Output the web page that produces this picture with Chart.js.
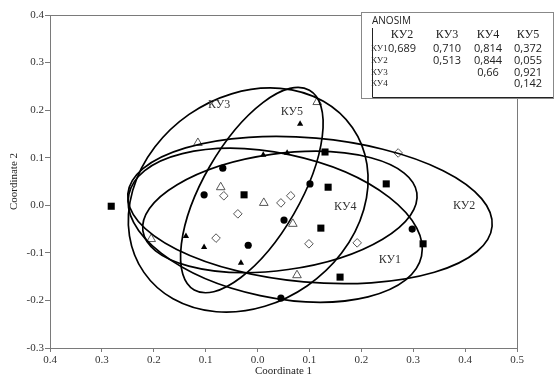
<!DOCTYPE html>
<html>
<head>
<meta charset="utf-8">
<script src="https://cdn.jsdelivr.net/npm/chart.js@4.4.1/dist/chart.umd.min.js"></script>
<style>
  html, body { margin: 0; padding: 0; background: #fff; }
  #wrap { width: 556px; height: 378px; }
</style>
</head>
<body>
<div id="wrap"><canvas id="cNmds" width="556" height="378"></canvas></div>
<script>
// --- ticks ---
const xTicks = [-0.4, -0.3, -0.2, -0.1, 0.0, 0.1, 0.2, 0.3, 0.4, 0.5];
const xTickLabels = ['0.4', '0.3', '0.2', '0.1', '0.0', '0.1', '0.2', '0.3', '0.4', '0.5'];
const yTicks = [0.4, 0.3, 0.2, 0.1, 0.0, -0.1, -0.2, -0.3];
const yTickLabels = ['0.4', '0.3', '0.2', '0.1', '0.0', '-0.1', '-0.2', '-0.3'];

// --- points (Coordinate 1, Coordinate 2) ---
const squares = [[-0.282, -0.002], [-0.026, 0.022], [0.130, 0.112], [0.136, 0.038], [0.248, 0.045], [0.122, -0.048], [0.319, -0.081], [0.159, -0.151]];
const circles = [[-0.067, 0.078], [-0.103, 0.022], [0.101, 0.045], [0.051, -0.031], [-0.018, -0.084], [0.298, -0.050], [0.045, -0.195]];
const triFilled = [[0.082, 0.171], [0.011, 0.106], [0.057, 0.110], [-0.138, -0.065], [-0.103, -0.088], [-0.032, -0.121]];
const triOpen = [[0.115, 0.217], [-0.115, 0.131], [-0.071, 0.038], [0.012, 0.005], [0.068, -0.039], [0.076, -0.147], [-0.205, -0.071]];
const diamonds = [[-0.065, 0.020], [-0.038, -0.018], [0.045, 0.005], [0.064, 0.020], [-0.080, -0.069], [0.099, -0.081], [0.192, -0.079], [0.271, 0.110]];

// --- group ellipses: centre, end of major half-axis, end of minor half-axis ---
const ellipseNames = ['КУ1', 'КУ2', 'КУ3', 'КУ4', 'КУ5'];
const ellipseCenters = [[0.034, -0.042], [0.101, -0.010], [-0.018, 0.011], [0.043, -0.014], [-0.011, 0.032]];
const ellipseMajor = [[0.316, -0.107], [0.452, -0.044], [0.183, 0.163], [0.307, 0.026], [0.100, 0.242]];
const ellipseMinor = [[0.005, -0.190], [0.089, -0.161], [0.096, -0.169], [0.059, -0.135], [0.070, -0.018]];
const ellipseLabelAt = [[0.255, -0.115], [0.398, -0.002], [-0.074, 0.211], [0.169, -0.004], [0.066, 0.196]];

// --- ANOSIM table ---
const anosimCols = ['КУ2', 'КУ3', 'КУ4', 'КУ5'];
const anosimRows = ['КУ1', 'КУ2', 'КУ3', 'КУ4'];
const anosimVals = [
  ['0,689', '0,710', '0,814', '0,372'],
  ['', '0,513', '0,844', '0,055'],
  ['', '', '0,66', '0,921'],
  ['', '', '', '0,142']
];

const toXY = arr => arr.map(p => ({ x: p[0], y: p[1] }));
const SERIF = '"Liberation Serif", "DejaVu Serif", serif';
const AXIS = '#7a7a7a';

// contours + labels, drawn through the scales
const ellipsePlugin = {
  id: 'ellipses',
  afterDatasetsDraw(chart) {
    const { ctx, chartArea: a, scales: { x, y } } = chart;
    ctx.save();
    ctx.beginPath();
    ctx.rect(a.left, a.top, a.right - a.left, a.bottom - a.top);
    ctx.clip();
    ellipseCenters.forEach((c, i) => {
      const cx = x.getPixelForValue(c[0]), cy = y.getPixelForValue(c[1]);
      const ux = x.getPixelForValue(ellipseMajor[i][0]) - cx, uy = y.getPixelForValue(ellipseMajor[i][1]) - cy;
      const vx = x.getPixelForValue(ellipseMinor[i][0]) - cx, vy = y.getPixelForValue(ellipseMinor[i][1]) - cy;
      ctx.save();
      ctx.beginPath();
      ctx.transform(ux, uy, vx, vy, cx, cy);
      ctx.arc(0, 0, 1, 0, Math.PI * 2);
      ctx.restore();
      ctx.lineWidth = 1.7;
      ctx.strokeStyle = '#000';
      ctx.stroke();
    });
    ctx.fillStyle = '#333';
    ctx.font = '12px ' + SERIF;
    ctx.textAlign = 'center';
    ctx.textBaseline = 'middle';
    ellipseLabelAt.forEach((p, i) => {
      ctx.fillText(ellipseNames[i], x.getPixelForValue(p[0]), y.getPixelForValue(p[1]));
    });
    ctx.restore();
  },
  afterDraw(chart) {
    const { ctx, chartArea: a } = chart;
    ctx.save();
    // frame
    ctx.strokeStyle = AXIS;
    ctx.lineWidth = 1;
    ctx.strokeRect(a.left + 0.5, a.top + 0.5, a.right - a.left, a.bottom - a.top);

    // ANOSIM box
    const bx = 361, by = 12, bw = 192, bh = 86;
    ctx.fillStyle = '#fff';
    ctx.fillRect(bx, by, bw, bh);
    ctx.strokeStyle = '#888';
    ctx.strokeRect(bx + 0.5, by + 0.5, bw, bh);
    ctx.strokeStyle = '#222';
    ctx.beginPath();
    ctx.moveTo(372.5, 28); ctx.lineTo(372.5, 97.5); ctx.lineTo(bx + bw, 97.5);
    ctx.stroke();

    ctx.fillStyle = '#222';
    ctx.textBaseline = 'middle';
    ctx.textAlign = 'left';
    ctx.font = '10px "Open Sans", sans-serif';
    ctx.fillText('ANOSIM', 372, 21);

    const colX = [402, 447, 488, 528];
    const rowY = [49, 61, 73, 84];
    ctx.textAlign = 'center';
    ctx.font = '12px ' + SERIF;
    anosimCols.forEach((t, j) => ctx.fillText(t, colX[j], 35));
    ctx.textAlign = 'left';
    ctx.font = '9px ' + SERIF;
    anosimRows.forEach((t, i) => ctx.fillText(t, 371, rowY[i]));
    ctx.textAlign = 'center';
    ctx.font = '11px "Open Sans", sans-serif';
    anosimVals.forEach((row, i) => row.forEach((v, j) => {
      if (v) ctx.fillText(v, colX[j], rowY[i]);
    }));
    ctx.restore();
  }
};

const openPt = { backgroundColor: '#fff', borderColor: '#555', borderWidth: 1 };
const fillPt = { backgroundColor: '#000', borderColor: '#000', borderWidth: 0 };

new Chart(document.getElementById('cNmds').getContext('2d'), {
  type: 'scatter',
  data: {
    datasets: [
      { label: 'squares', data: toXY(squares), pointStyle: 'rect', pointRadius: 5, ...fillPt },
      { label: 'circles', data: toXY(circles), pointStyle: 'circle', pointRadius: 3.6, ...fillPt },
      { label: 'triangles', data: toXY(triFilled), pointStyle: 'triangle', pointRadius: 3.6, ...fillPt },
      { label: 'open triangles', data: toXY(triOpen), pointStyle: 'triangle', pointRadius: 5, ...openPt },
      { label: 'diamonds', data: toXY(diamonds), pointStyle: 'rectRot', pointRadius: 4.3, ...openPt }
    ]
  },
  options: {
    responsive: false,
    animation: false,
    devicePixelRatio: 1,
    layout: { padding: { left: 0, top: 15, right: 39, bottom: 0 } },
    plugins: { legend: { display: false }, tooltip: { enabled: false } },
    scales: {
      x: {
        type: 'linear', min: -0.4, max: 0.5,
        afterBuildTicks: s => { s.ticks = xTicks.map(v => ({ value: v })); },
        afterFit: s => { s.height = 30; },
        grid: { drawOnChartArea: false, drawTicks: true, tickLength: 4, color: AXIS },
        border: { color: AXIS },
        ticks: { callback: (v, i) => xTickLabels[i], color: '#333', font: { family: SERIF, size: 11 }, padding: 2, maxRotation: 0, autoSkip: false },
        title: { display: true, text: 'Coordinate 1', color: '#222', font: { family: SERIF, size: 11 }, padding: 0 }
      },
      y: {
        type: 'linear', min: -0.3, max: 0.4,
        afterBuildTicks: s => { s.ticks = yTicks.map(v => ({ value: v })); },
        afterFit: s => { s.width = 50; },
        grid: { drawOnChartArea: false, drawTicks: true, tickLength: 5, color: AXIS },
        border: { color: AXIS },
        ticks: { callback: (v, i) => yTickLabels[i], color: '#333', font: { family: SERIF, size: 11 }, padding: 1, autoSkip: false },
        title: { display: true, text: 'Coordinate 2', color: '#222', font: { family: SERIF, size: 11 }, padding: { top: 8, bottom: 0 } }
      }
    }
  },
  plugins: [ellipsePlugin]
});
</script>
</body>
</html>
